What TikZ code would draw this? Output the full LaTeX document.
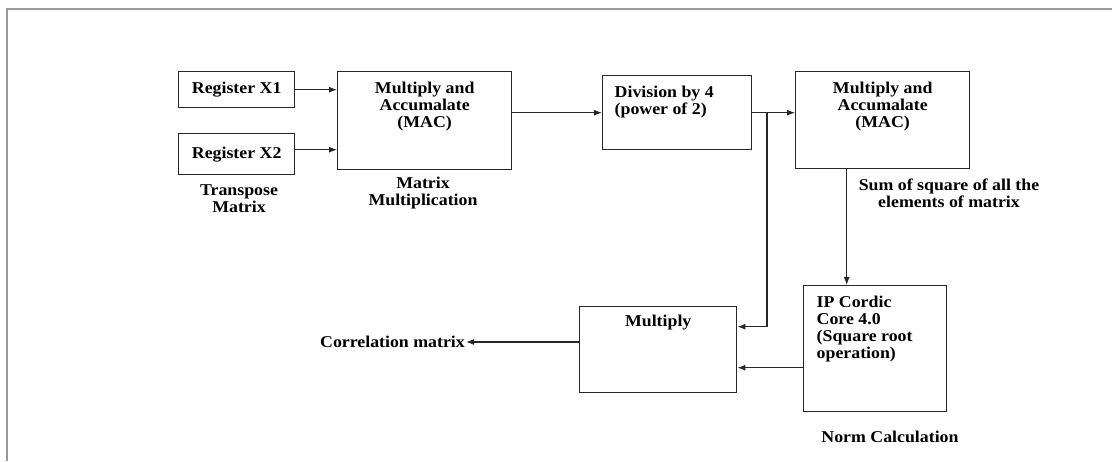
\documentclass[tikz,border=0pt]{standalone}
\usepackage{fontspec}
\setmainfont[FakeStretch=1.08]{Liberation Serif}
\usetikzlibrary{arrows.meta}
\begin{document}
\begin{tikzpicture}[x=1pt, y=1pt, >={Latex[length=8pt,width=6pt]},
    every node/.style={font=\fontsize{16.5}{17}\selectfont\bfseries},
    blok/.style={draw, line width=1.4pt, inner sep=0pt, anchor=north west, draw=black!85},
    nhan/.style={align=center, inner sep=1pt},
    mui/.style={->, line width=1.1pt, draw=black!85}]
    % 1. Khung
    \useasboundingbox (0,0) rectangle (1112,461);
    \draw[gray!80, line width=1.2pt] (1112,452) -- (7,452) -- (7,0);

    % 2. Cac khoi
    \node[blok, minimum width=116pt, minimum height=36pt] (x1) at (178,390) {Register X1};
    \node[blok, minimum width=116pt, minimum height=41pt] (x2) at (178,328) {Register X2};
    \node[blok] (mac1) at (337,390)
        {\parbox[c][98pt][t]{174pt}{\vspace*{9.5pt}\centering\strut Multiply and\\ Accumalate\\ (MAC)}};
    \node[blok] (div) at (602,386)
        {\parbox[c][74pt][t]{149pt}{\vspace*{9.5pt}\raggedright\leftskip=12pt\strut Division by 4\\ (power of 2)}};
    \node[blok] (mac2) at (795,390)
        {\parbox[c][97pt][t]{174pt}{\vspace*{9.5pt}\centering\strut Multiply and\\ Accumalate\\ (MAC)}};
    \node[blok] (mul) at (579,155)
        {\parbox[c][86pt][t]{157pt}{\vspace*{7.5pt}\centering\strut Multiply}};
    \node[blok] (ip) at (803,176)
        {\parbox[c][126pt][t]{143pt}{\vspace*{9.5pt}\raggedright\leftskip=13pt\strut IP Cordic\\ Core 4.0\\ (Square root\\ operation)}};

    % 3. Nhan
    \node[nhan] (tr) at (239,262.5) {Transpose\\ Matrix};
    \node[nhan] (mm) at (423,267.5) {Matrix\\ Multiplication};
    \node[nhan] (sum) at (949,267.5) {Sum of square of all the\\ elements of matrix};
    \node[nhan] (norm) at (890,24) {Norm Calculation};
    \node[nhan, anchor=east] (corr) at (466,119) {Correlation matrix};

    % 4. Ket noi
    \coordinate (split) at (767,349);
    \draw[mui] (x1.east) -- (x1.east -| mac1.west);
    \draw[mui] ([yshift=4.5pt]x2.east) -- ([yshift=4.5pt]x2.east -| mac1.west);
    \draw[mui] (mac1.east |- div.west) -- (div.west);
    \draw[mui] (div.east) -- (div.east -| mac2.west);
    \draw[mui] (split) |- ([yshift=23pt]mul.east);
    \draw[mui] ([xshift=-36pt]mac2.south) -- ([xshift=-36pt]mac2.south |- ip.north);
    \draw[mui] ([yshift=-19pt]ip.west) -- ([yshift=-19pt]ip.west -| mul.east);
    \draw[mui] (corr.east -| mul.west) -- (corr.east);
\end{tikzpicture}
\end{document}
